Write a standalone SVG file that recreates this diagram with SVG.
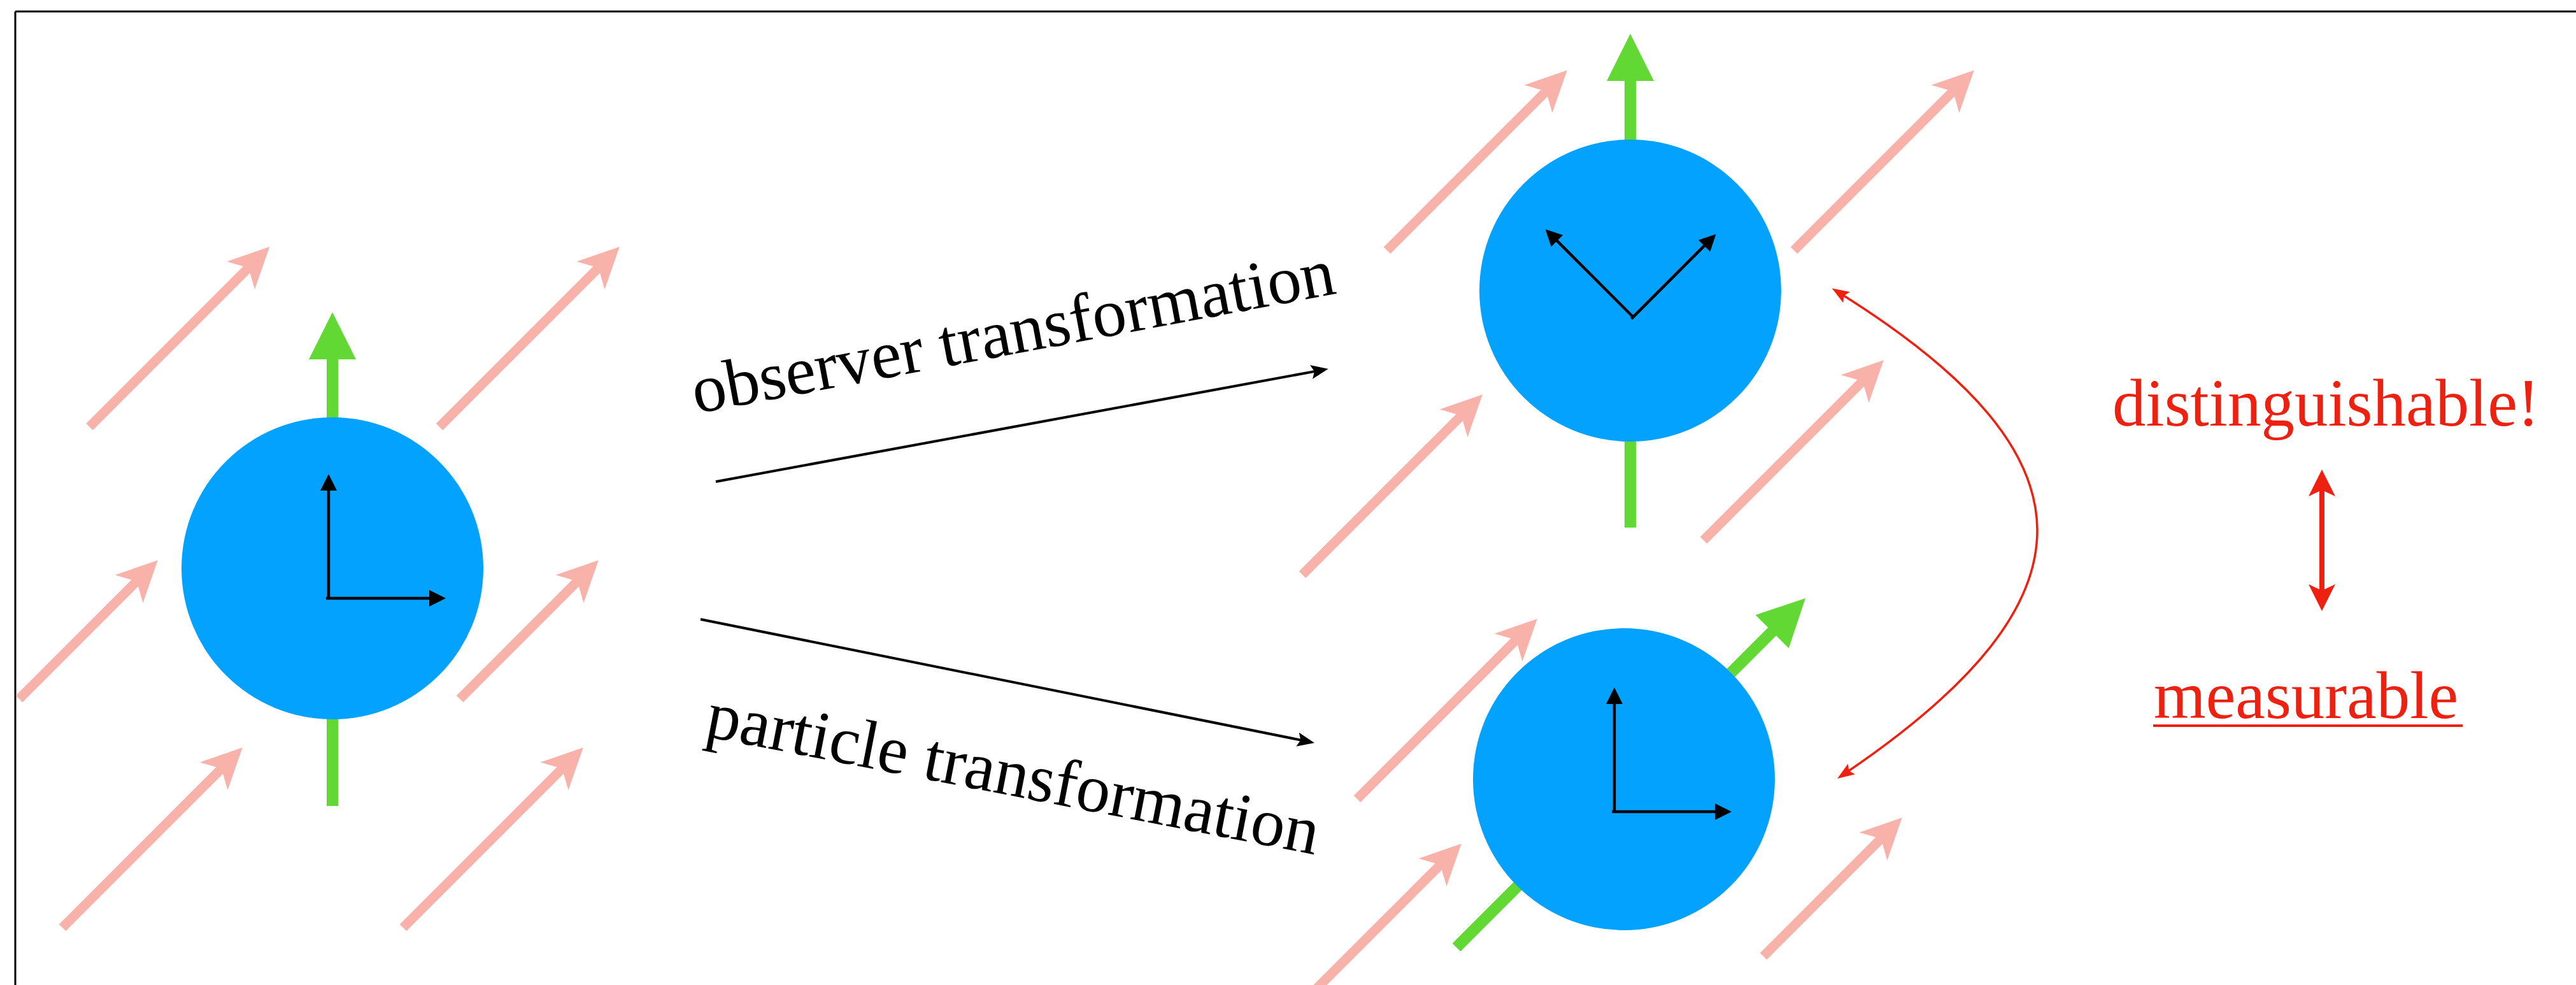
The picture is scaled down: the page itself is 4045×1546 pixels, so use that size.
<svg xmlns="http://www.w3.org/2000/svg" xmlns:xlink="http://www.w3.org/1999/xlink" width="4045" height="1546" viewBox="0 0 4045 1546">
  <style>
    .field { fill: #F8B2AA; }
    .spin { fill: #62D834; }
    .body { fill: #03A2FF; }
    .axis { stroke: #000; stroke-width: 4.5; fill: none; }
    .axis-head { fill: #000; }
    .label { font-family: "Liberation Serif", "Times New Roman", serif; font-size: 107px; fill: #000; }
    .note { font-family: "Liberation Serif", "Times New Roman", serif; font-size: 105px; fill: #EE2010; }
    .conn { stroke: #000; stroke-width: 4; fill: none; }
    .link { stroke: #EE2010; stroke-width: 3.5; fill: none; }
  </style>
  <defs>
    <!-- background field arrows, drawn along +x from the tail -->
    <path id="field-long" class="field" d="M0,-7.5 H349 L336,-31 L400,0 L336,31 L349,7.5 H0 Z"/>
    <path id="field-short" class="field" d="M0,-7.5 H257 L244,-31 L308,0 L244,31 L257,7.5 H0 Z"/>
    <!-- spin arrow, along +x from the tail -->
    <path id="spin" class="spin" d="M0,-9 H701 V-37 L775,0 L701,37 V9 H0 Z"/>
    <!-- body frame: origin at (0,0), y up and x right -->
    <g id="axes">
      <line class="axis" x1="2" y1="2" x2="2" y2="-172"/>
      <polygon class="axis-head" points="2,-195 -11,-169 15,-169"/>
      <line class="axis" x1="-2" y1="0" x2="162" y2="0"/>
      <polygon class="axis-head" points="186,0 160,-13 160,13"/>
    </g>
    <marker id="head-black" viewBox="0 -12 28 24" markerWidth="28" markerHeight="24" refX="7" refY="0" orient="auto" markerUnits="userSpaceOnUse">
      <path d="M0,-11 L27,0 L0,11 L5,0 Z" fill="#000"/>
    </marker>
    <marker id="head-red" viewBox="0 -11 28 22" markerWidth="28" markerHeight="22" refX="9" refY="0" orient="auto-start-reverse" markerUnits="userSpaceOnUse">
      <path d="M0,-10 L27,0 L0,10 L5,0 Z" fill="#EE2010"/>
    </marker>
  </defs>

  <!-- frame edges -->
  <g id="frame" stroke="#000" stroke-width="3">
    <line x1="24" y1="18" x2="4045" y2="18"/>
    <line x1="24" y1="18" x2="24" y2="1546"/>
  </g>

  <!-- field around the particle at rest -->
  <g id="field-left">
    <use xlink:href="#field-long" transform="translate(140.5,670) rotate(-45)"/>
    <use xlink:href="#field-long" transform="translate(690,670) rotate(-45)"/>
    <use xlink:href="#field-short" transform="translate(30,1097) rotate(-45)"/>
    <use xlink:href="#field-short" transform="translate(722,1097) rotate(-45)"/>
    <use xlink:href="#field-long" transform="translate(98,1456) rotate(-45)"/>
    <use xlink:href="#field-long" transform="translate(633,1456) rotate(-45)"/>
  </g>

  <!-- field after the observer transformation -->
  <g id="field-top-right">
    <use xlink:href="#field-long" transform="translate(2178,393) rotate(-45)"/>
    <use xlink:href="#field-long" transform="translate(2817,393) rotate(-45)"/>
    <use xlink:href="#field-long" transform="translate(2045,902) rotate(-45)"/>
    <use xlink:href="#field-long" transform="translate(2675,848) rotate(-45)"/>
  </g>

  <!-- field after the particle transformation -->
  <g id="field-bottom-right">
    <use xlink:href="#field-long" transform="translate(2131,1254) rotate(-45)"/>
    <use xlink:href="#field-long" transform="translate(2012,1607) rotate(-45)"/>
    <use xlink:href="#field-short" transform="translate(2769,1501) rotate(-45)"/>
  </g>

  <!-- particle at rest -->
  <g id="particle-start">
    <use xlink:href="#spin" transform="translate(522,1265) rotate(-90)"/>
    <circle class="body" cx="522" cy="892" r="237"/>
    <use xlink:href="#axes" transform="translate(514,939)"/>
  </g>

  <!-- particle seen by the transformed observer -->
  <g id="particle-observer">
    <use xlink:href="#spin" transform="translate(2560,828) rotate(-90)"/>
    <circle class="body" cx="2560" cy="456" r="237"/>
    <use xlink:href="#axes" transform="translate(2563,499) rotate(-45)"/>
  </g>

  <!-- particle after the particle transformation -->
  <g id="particle-boosted">
    <use xlink:href="#spin" transform="translate(2287,1487) rotate(-45)"/>
    <circle class="body" cx="2550" cy="1223" r="237"/>
    <use xlink:href="#axes" transform="translate(2533,1274)"/>
  </g>

  <!-- connectors -->
  <g id="connectors">
    <line class="conn" x1="1124" y1="756" x2="2066" y2="582.6" marker-end="url(#head-black)"/>
    <line class="conn" x1="1100" y1="972" x2="2044.4" y2="1162" marker-end="url(#head-black)"/>
    <path class="link" d="M2892,462 C3300,718 3300,940 2900,1212" marker-start="url(#head-red)" marker-end="url(#head-red)"/>
    <path id="equivalence" fill="#EE2010" d="M3646,737 L3667,779 L3650,771 L3650,925 L3667,917 L3646,959 L3625,917 L3642,925 L3642,771 L3625,779 Z"/>
  </g>

  <!-- labels -->
  <g id="labels">
    <text class="label" transform="translate(1093,649) rotate(-10.6)">observer transformation</text>
    <text class="label" transform="translate(1105,1155) rotate(11)">particle transformation</text>
    <text class="note" x="3317" y="668">distinguishable!</text>
    <text class="note" x="3382" y="1127">measurable</text>
    <line x1="3381" y1="1139" x2="3867" y2="1139" stroke="#EE2010" stroke-width="4"/>
  </g>
</svg>
